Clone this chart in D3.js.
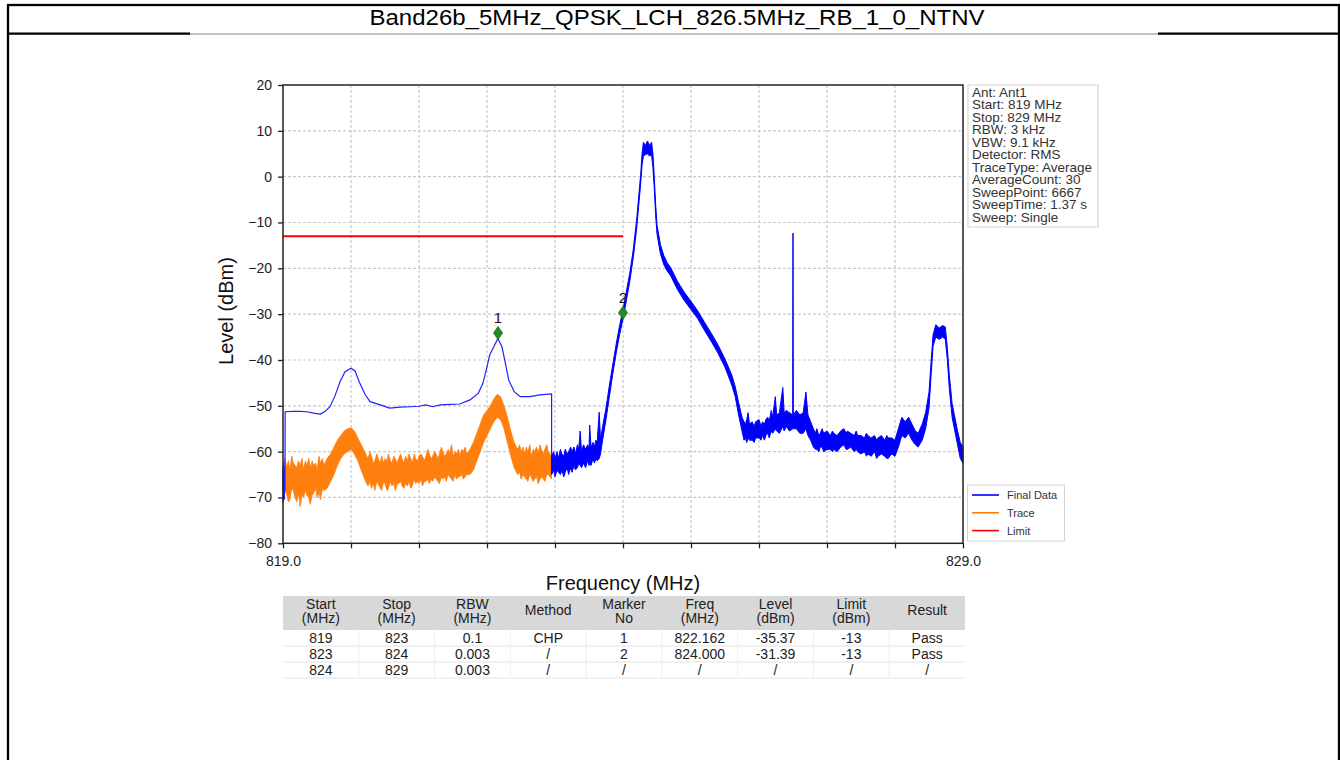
<!DOCTYPE html>
<html><head><meta charset="utf-8">
<script src="https://cdn.jsdelivr.net/npm/d3@7"></script>
<style>
html,body{margin:0;padding:0;background:#fff;}
svg{display:block;font-family:"Liberation Sans",Arial,sans-serif;}
</style></head>
<body><svg id="c" width="1340" height="760"></svg>
<script>
// ---------- data ----------
const titleText = "Band26b_5MHz_QPSK_LCH_826.5MHz_RB_1_0_NTNV";
const yTicks = [20,10,0,-10,-20,-30,-40,-50,-60,-70,-80];
const xTicks = [819,820,821,822,823,824,825,826,827,828,829];
const xTickLabels = ["819.0","","","","","","","","","","829.0"];
const yLabel = "Level (dBm)";
const xLabel = "Frequency (MHz)";

// Final Data, channel-power part (819-823 MHz), thin line [freq, level]
const finalDataCHP = [
 [819.000,-64],[819.004,-71],[819.008,-63],[819.012,-70],[819.016,-64.5],[819.020,-70.5],[819.024,-63.5],[819.028,-69],[819.032,-51.3],
 [819.15,-51.2],[819.25,-51.2],[819.35,-51.3],[819.45,-51.6],[819.55,-51.8],[819.62,-51.2],[819.69,-50.2],[819.76,-48],
 [819.84,-44.7],[819.91,-42.6],[820.00,-41.8],[820.06,-42.4],[820.13,-45.1],[820.21,-47.6],[820.28,-49.1],[820.43,-49.8],
 [820.57,-50.5],[820.72,-50.3],[820.87,-50.2],[821.00,-50.1],[821.10,-49.8],[821.20,-50.2],[821.31,-49.8],[821.46,-49.7],
 [821.60,-49.6],[821.75,-48.7],[821.87,-47.3],[821.94,-45.1],[822.00,-41.5],[822.04,-38.9],[822.10,-37.1],[822.16,-35.3],
 [822.22,-37.1],[822.26,-40],[822.32,-44.4],[822.40,-46.9],[822.49,-48.0],[822.63,-48],[822.78,-47.6],[822.95,-47.4],[822.95,-63]
];

// Final Data, 3 kHz sweep part (823-829 MHz) as noise envelope [freq, top, bottom]
const finalDataBand = [
 [822.95,-61,-65],[822.98,-60,-64],[823.00,-61.5,-65.5],[823.03,-60,-64],[823.05,-61.5,-64.5],[823.08,-59.5,-65],[823.10,-60.5,-64],
 [823.13,-61,-65.5],[823.15,-59.5,-64.5],[823.18,-60.5,-63.5],[823.20,-60,-65],[823.23,-59,-63.5],
 [823.25,-60,-64.5],[823.28,-59,-63],[823.30,-60.5,-64],[823.33,-58.5,-63.5],[823.35,-59.5,-62.5],[823.37,-55.5,-63],[823.39,-60,-63.5],
 [823.42,-58.5,-62.5],[823.45,-59.5,-63.5],[823.48,-58.5,-62],
 [823.50,-59.5,-63],[823.51,-54.2,-62.5],[823.53,-59,-63],[823.56,-58,-61.5],[823.58,-59,-62.5],[823.60,-57.5,-61.5],[823.62,-58,-62],[823.65,-51.4,-61.5],
 [823.67,-57.5,-60.5],[823.70,-54.5,-57.5],[823.75,-50.5,-53],[823.80,-45.5,-48],[823.85,-41,-43],[823.90,-36.5,-38.5],
 [823.95,-32.5,-34.5],[824.00,-29,-31],[824.05,-25,-27],[824.10,-21,-22.8],[824.15,-16,-17.8],[824.20,-9.5,-11.5],
 [824.23,-4.5,-6.5],[824.26,0.5,-1.5],[824.28,5,2.5],[824.30,7.5,4.5],[824.33,6.8,4.8],[824.36,7.8,5],[824.39,6.8,4.5],
 [824.42,7.5,4.8],[824.44,5,2],[824.46,0,-2.5],[824.48,-6,-8.5],[824.50,-10.5,-12.5],[824.55,-14.8,-16.8],[824.60,-17.2,-19.2],
 [824.65,-18.8,-20.6],[824.70,-19.8,-21.6],[824.80,-22.8,-24.6],[824.90,-25.2,-27],[825.00,-27.2,-29],[825.10,-29.3,-31],
 [825.20,-31.8,-33.6],[825.30,-34.2,-36],[825.40,-36.8,-38.6],[825.50,-39.8,-41.6],[825.60,-43.3,-45.5],[825.65,-45.8,-48],
 [825.70,-49.3,-52],[825.75,-52.5,-55.5],[825.78,-53.5,-57.5],[825.80,-54,-57],[825.82,-53,-58],[825.84,-51.5,-57],[825.86,-54,-57.5],[825.90,-53.5,-57.5],[825.93,-54.5,-58],[825.95,-53.5,-57],
 [826.00,-53,-57],[826.03,-54.5,-57.5],[826.05,-53.5,-56.5],[826.08,-54,-57.5],[826.10,-53,-56.5],[826.13,-52.5,-56],[826.15,-53.5,-57],[826.18,-51,-55.5],[826.20,-52.5,-56],[826.24,-48,-55],
 [826.26,-52,-55.5],[826.30,-51.5,-56],[826.35,-46,-54.5],[826.37,-51.5,-55.5],[826.40,-51,-54.5],[826.45,-51.5,-55.5],[826.495,-52,-55],[826.50,-12.3,-55],
 [826.505,-52,-55],[826.55,-51,-55],[826.60,-52,-56],[826.65,-51.5,-56],[826.69,-47,-55],[826.72,-52,-56.5],
 [826.76,-53.5,-57.5],[826.80,-55,-59],[826.83,-56,-59.5],[826.85,-55,-59.5],[826.88,-56.5,-60],[826.90,-56,-59],[826.93,-55,-59],[826.95,-56,-60],[827.00,-55.5,-59.5],
 [827.05,-56.5,-59.5],[827.08,-55.5,-60],[827.10,-56,-59.5],[827.15,-56.5,-60],[827.20,-55.5,-59],[827.25,-55,-58.5],[827.28,-56,-59.5],[827.30,-55.5,-59.5],
 [827.35,-56,-59],[827.40,-56.5,-60],[827.43,-55.5,-59.5],[827.45,-56.5,-60],[827.50,-56.5,-60.5],[827.55,-57,-60],[827.58,-56,-61],[827.60,-56.5,-60.5],
 [827.65,-57,-61],[827.70,-56.5,-60],[827.73,-57.5,-61.5],[827.75,-57,-61],[827.80,-56.5,-60.5],[827.85,-57.5,-61],[827.88,-56.5,-61.5],[827.90,-57,-61.5],
 [827.95,-57,-60.5],[828.00,-57.5,-61],[828.05,-55,-59],[828.10,-52.5,-56.5],[828.15,-53.5,-57],[828.20,-52.5,-56],
 [828.25,-54,-57.5],[828.30,-55.5,-58.5],[828.34,-56,-59],[828.40,-54,-57.5],[828.45,-51.5,-55],[828.50,-47,-50.5],
 [828.53,-40.5,-43.5],[828.56,-34.5,-37],[828.60,-32.3,-35],[828.65,-33,-35.5],[828.70,-32.5,-35],[828.74,-32.8,-35.5],
 [828.77,-37.5,-40],[828.80,-43.5,-46.5],[828.84,-49.5,-52.5],[828.88,-52.5,-55.5],[828.92,-55.5,-58.5],[828.96,-58,-61.5],
 [829.00,-59,-62.5]
];

// Trace (819-823 MHz) noise envelope [freq, top, bottom]
const traceBand = [
 [819.00,-63,-70],[819.03,-61.5,-68],[819.05,-63.5,-69],[819.08,-62,-71],[819.10,-64,-70.5],[819.13,-61,-68],[819.15,-62.5,-68.5],[819.18,-63,-70],[819.20,-63.5,-71],[819.23,-62,-69],[819.25,-63,-72],
 [819.28,-61.5,-69.5],[819.30,-64,-70],[819.33,-62,-68.5],[819.35,-63,-69.5],[819.38,-61.5,-70],[819.40,-63.5,-71.5],[819.43,-62,-69.5],[819.45,-63,-69],[819.48,-62.5,-68],[819.50,-64,-70],[819.53,-61,-69],[819.55,-62.5,-70.5],
 [819.58,-61.5,-68],[819.60,-63,-68.5],[819.65,-61.5,-68],[819.70,-60.5,-66.5],[819.75,-59,-65],[819.80,-57.5,-63],[819.85,-56.5,-61.5],
 [819.90,-55.5,-60.5],[819.95,-55,-60],[820.00,-54.8,-59.5],[820.05,-55.5,-60.5],[820.10,-57,-62],[820.15,-58.5,-64],
 [820.20,-60,-66],[820.25,-61.5,-67.5],[820.28,-60,-66.5],[820.30,-61,-68],[820.33,-62.5,-67],[820.35,-62,-68.5],[820.38,-60.5,-66.5],[820.40,-61.5,-67],[820.43,-62.5,-68],[820.45,-61,-68.5],
 [820.48,-62.5,-66.5],[820.50,-61.5,-67],[820.53,-62,-68.5],[820.55,-60.5,-68],[820.58,-62,-66.5],[820.60,-62.5,-67.5],[820.63,-61,-67],[820.65,-61.5,-68.5],[820.68,-62.5,-67],[820.70,-61.5,-67],[820.73,-60.5,-66.5],[820.75,-61.5,-67.5],
 [820.78,-62.5,-68],[820.80,-61,-67],[820.83,-62,-67.5],[820.85,-60.5,-66.5],[820.88,-61.5,-68],[820.90,-62.5,-67.5],[820.93,-60.5,-66],[820.95,-61.5,-67],[820.98,-62,-66.5],[821.00,-61,-67],[821.03,-60.5,-66],[821.05,-61,-67.5],
 [821.08,-62,-66.5],[821.10,-61,-66.5],[821.13,-59.5,-66],[821.15,-60.5,-67],[821.18,-61.5,-66],[821.20,-61,-66.5],[821.23,-60,-65.5],[821.25,-60.5,-66],[821.28,-61.5,-66.5],[821.30,-60.5,-67],[821.33,-59,-65.5],[821.35,-60,-66],
 [821.38,-61,-65.5],[821.40,-60.5,-66.5],[821.43,-59.5,-65],[821.45,-60.5,-65.5],[821.48,-58.5,-66],[821.50,-61,-66.5],[821.53,-60,-65],[821.55,-60.5,-66],[821.58,-59.5,-65.5],[821.60,-61,-65.5],[821.63,-59.5,-65],[821.65,-60,-66],
 [821.68,-59,-65.5],[821.70,-60.5,-65],[821.75,-59.5,-65],[821.80,-58,-64],[821.85,-56,-62],[821.90,-54,-60],[821.95,-52,-58],
 [822.00,-51,-56.5],[822.05,-50,-55],[822.10,-48.5,-53.5],[822.15,-47.5,-52.5],[822.20,-48,-53],[822.25,-50,-55],
 [822.30,-52.5,-58],[822.35,-55.5,-61],[822.40,-58,-63.5],[822.45,-59.5,-65],[822.48,-58.5,-64.5],[822.50,-60,-66],[822.53,-59,-65],[822.55,-60.5,-65.5],
 [822.58,-59,-66],[822.60,-60,-66.5],[822.63,-58.5,-65],[822.65,-61,-65.5],[822.68,-59.5,-66.5],[822.70,-60,-66],[822.73,-59,-65.5],[822.75,-60.5,-67],[822.78,-58.5,-66],[822.80,-59.5,-65.5],[822.83,-60.5,-66],[822.85,-59.5,-66.5],
 [822.88,-58.5,-65],[822.90,-60,-65],[822.95,-61,-66]
];

const limitLine = [[819,-13],[824,-13]];

const markerNo = ["1","2"];
const markerFreq = [822.162, 824.000];
const markerPlotLevel = [-34.1, -29.7];

const infoLines = ["Ant: Ant1","Start: 819 MHz","Stop: 829 MHz","RBW: 3 kHz","VBW: 9.1 kHz","Detector: RMS",
 "TraceType: Average","AverageCount: 30","SweepPoint: 6667","SweepTime: 1.37 s","Sweep: Single"];

const legendNames = ["Final Data","Trace","Limit"];
const legendColors = ["#0000ff","#ff7f0e","#ff0000"];

const tableHeader = [["Start","(MHz)"],["Stop","(MHz)"],["RBW","(MHz)"],["Method"],["Marker","No"],["Freq","(MHz)"],["Level","(dBm)"],["Limit","(dBm)"],["Result"]];
const tableRows = [
 ["819","823","0.1","CHP","1","822.162","-35.37","-13","Pass"],
 ["823","824","0.003","/","2","824.000","-31.39","-13","Pass"],
 ["824","829","0.003","/","/","/","/","/","/"]
];

// ---------- drawing ----------
const svg = d3.select("#c");
const x = d3.scaleLinear().domain([819,829]).range([283,963]);
const y = d3.scaleLinear().domain([-80,20]).range([543.3,85]);

// page frame
svg.append("rect").attr("x",8).attr("y",5).attr("width",1331).attr("height",770)
  .attr("fill","none").attr("stroke","#000").attr("stroke-width",2.3);
svg.append("line").attr("x1",8).attr("x2",190).attr("y1",33.7).attr("y2",33.7).attr("stroke","#000").attr("stroke-width",2.2);
svg.append("line").attr("x1",1158).attr("x2",1339).attr("y1",33.7).attr("y2",33.7).attr("stroke","#000").attr("stroke-width",2.2);
svg.append("line").attr("x1",190).attr("x2",1158).attr("y1",34).attr("y2",34).attr("stroke","#888").attr("stroke-width",1);
svg.append("text").attr("x",677).attr("y",25).attr("text-anchor","middle").attr("font-size",22)
  .attr("textLength",615).attr("lengthAdjust","spacingAndGlyphs").attr("fill","#000").text(titleText);

// grid
const g = svg.append("g");
g.selectAll("line.gy").data(yTicks.slice(1,-1)).join("line")
  .attr("x1",x(819)).attr("x2",x(829)).attr("y1",d=>y(d)).attr("y2",d=>y(d))
  .attr("stroke","#c9c9c9").attr("stroke-width",1.2).attr("stroke-dasharray","3,2");
g.selectAll("line.gx").data(xTicks.slice(1,-1)).join("line")
  .attr("y1",y(20)).attr("y2",y(-80)).attr("x1",d=>x(d)).attr("x2",d=>x(d))
  .attr("stroke","#c9c9c9").attr("stroke-width",1.2).attr("stroke-dasharray","3,2");

// limit
svg.append("path").datum(limitLine)
  .attr("d",d3.line().x(d=>x(d[0])).y(d=>y(d[1])))
  .attr("stroke","#ff0000").attr("stroke-width",2).attr("fill","none");

// trace (orange)
const band = d3.area().x(d=>x(d[0])).y0(d=>y(d[2])).y1(d=>y(d[1]));
svg.append("path").datum(traceBand).attr("d",band)
  .attr("fill","#ff7f0e").attr("stroke","#ff7f0e").attr("stroke-width",0.8).attr("stroke-linejoin","miter");

// final data
svg.append("path").datum(finalDataCHP)
  .attr("d",d3.line().x(d=>x(d[0])).y(d=>y(d[1])))
  .attr("fill","none").attr("stroke","#2020ff").attr("stroke-width",1.2);
svg.append("path").datum(finalDataBand).attr("d",band)
  .attr("fill","#0000ff").attr("stroke","#0000ff").attr("stroke-width",1);

// markers
const mk = svg.append("g");
markerNo.forEach((n,i)=>{
  const cx = x(markerFreq[i]), cy = y(markerPlotLevel[i]);
  mk.append("path").attr("d",`M${cx},${cy-6.5}L${cx+4.5},${cy}L${cx},${cy+6.5}L${cx-4.5},${cy}Z`)
    .attr("fill","#228b22").attr("stroke","#1a6b1a").attr("stroke-width",0.8);
  mk.append("text").attr("x",cx).attr("y",cy-10).attr("text-anchor","middle").attr("font-size",15).attr("fill","#111").text(n);
});

// axes frame
svg.append("rect").attr("x",x(819)).attr("y",y(20)).attr("width",x(829)-x(819)).attr("height",y(-80)-y(20))
  .attr("fill","none").attr("stroke","#222").attr("stroke-width",1.5);

const ax = svg.append("g").attr("transform",`translate(${x(819)},0)`)
  .call(d3.axisLeft(y).tickValues(yTicks).tickSize(5).tickPadding(6).tickFormat(d3.format("d")));
const bx = svg.append("g").attr("transform",`translate(0,${y(-80)})`)
  .call(d3.axisBottom(x).tickValues(xTicks).tickSize(5).tickPadding(5).tickFormat((d,i)=>xTickLabels[i]));
[ax,bx].forEach(a=>{
  a.select(".domain").remove();
  a.selectAll(".tick line").attr("stroke","#222").attr("stroke-width",1.3);
  a.selectAll("text").attr("font-size",14).attr("fill","#222").attr("font-family","Liberation Sans, Arial, sans-serif");
});
bx.selectAll("text").attr("dy","0.9em");

svg.append("text").attr("transform","translate(233,311) rotate(-90)").attr("text-anchor","middle")
  .attr("font-size",20).attr("fill","#111").text(yLabel);
svg.append("text").attr("x",623).attr("y",590).attr("text-anchor","middle")
  .attr("font-size",20).attr("fill","#111").text(xLabel);

// info box
svg.append("rect").attr("x",968).attr("y",85).attr("width",130).attr("height",142)
  .attr("fill","#fff").attr("stroke","#cfcfcf").attr("stroke-width",1);
svg.append("g").selectAll("text").data(infoLines).join("text")
  .attr("x",972).attr("y",(d,i)=>96.5+i*12.55).attr("font-size",13.5).attr("fill","#333").text(d=>d);

// legend
svg.append("rect").attr("x",967.5).attr("y",485).attr("width",97).attr("height",56)
  .attr("fill","#fff").attr("stroke","#d5d5d5").attr("stroke-width",1);
const lg = svg.append("g").selectAll("g").data(legendNames).join("g")
  .attr("transform",(d,i)=>`translate(0,${495+i*17.8})`);
lg.append("line").attr("x1",972).attr("x2",999).attr("stroke",(d,i)=>legendColors[i]).attr("stroke-width",1.6);
lg.append("text").attr("x",1007).attr("y",4).attr("font-size",11).attr("fill","#333").text(d=>d);

// table
const tX0 = 283, colW = (965-283)/9;
svg.append("rect").attr("x",tX0).attr("y",596).attr("width",colW*9).attr("height",34).attr("fill","#d8d8d8");
const hdr = svg.append("g");
tableHeader.forEach((h,i)=>{
  const cx = tX0 + colW*(i+0.5);
  h.forEach((t,j)=>{
    const yy = h.length===1 ? 613 : 607 + j*14;
    hdr.append("text").attr("x",cx).attr("y",yy+2).attr("text-anchor","middle").attr("font-size",14).attr("fill","#222").text(t);
  });
});
tableRows.forEach((r,ri)=>{
  const yb = 630 + ri*16;
  svg.append("line").attr("x1",tX0).attr("x2",tX0+colW*9).attr("y1",yb+16).attr("y2",yb+16).attr("stroke","#e3e3e3");
  r.forEach((t,i)=>{
    svg.append("text").attr("x",tX0+colW*(i+0.5)).attr("y",yb+12.5).attr("text-anchor","middle")
      .attr("font-size",14).attr("fill","#222").text(t);
  });
});
for(let i=1;i<9;i++){
  svg.append("line").attr("x1",tX0+colW*i).attr("x2",tX0+colW*i).attr("y1",630).attr("y2",678).attr("stroke","#eeeeee");
}
</script></body></html>
